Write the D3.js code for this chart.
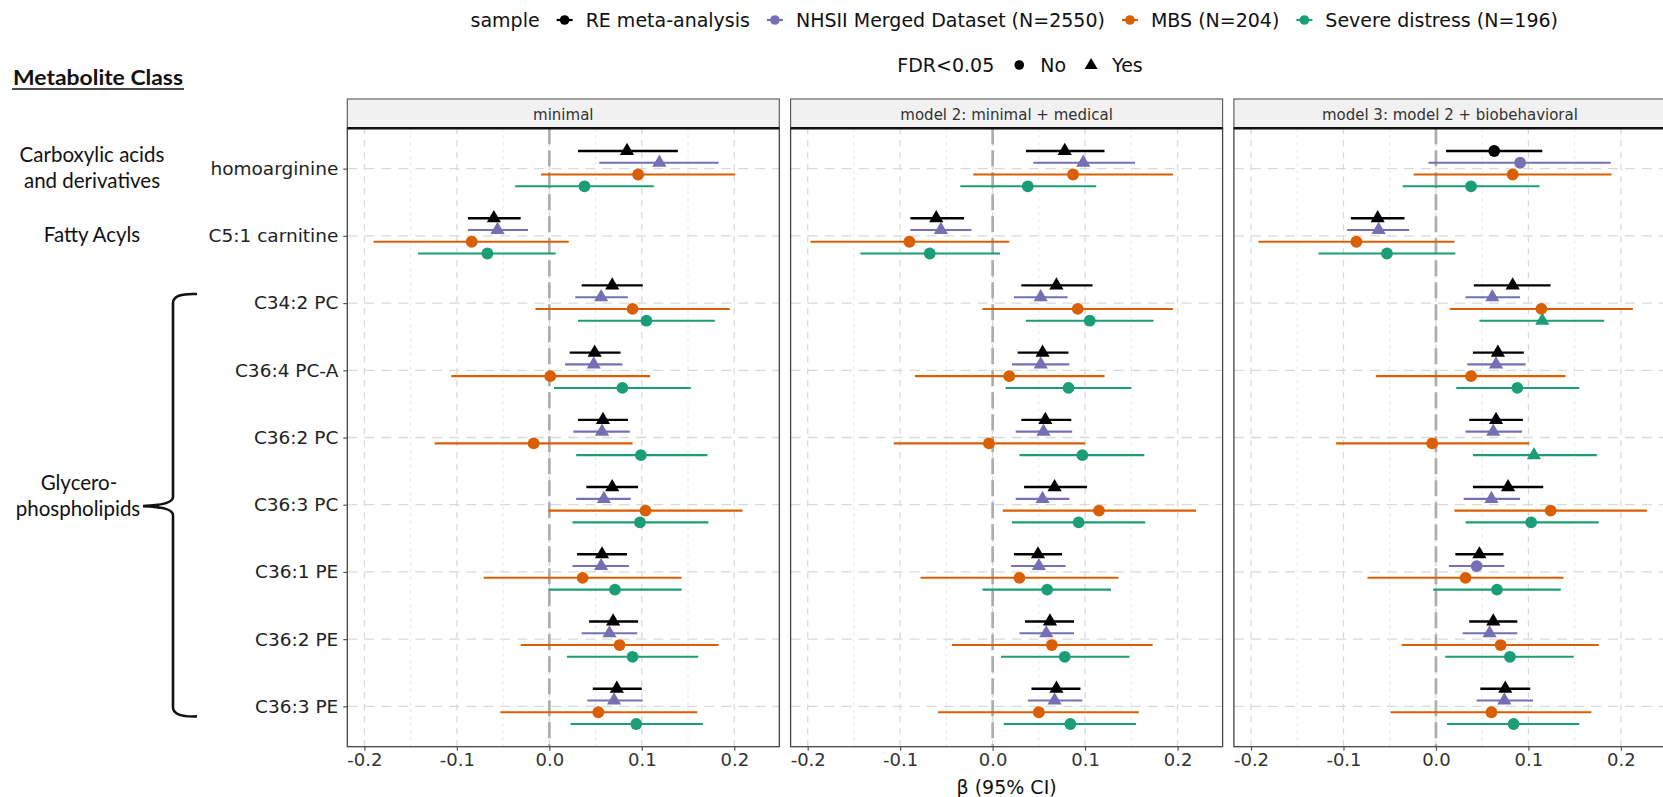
<!DOCTYPE html>
<html>
<head>
<meta charset="utf-8">
<script src="https://cdn.jsdelivr.net/npm/d3@7"></script>
<style>
  html, body { margin: 0; padding: 0; background: #fff; }
  svg { display: block; }
</style>
</head>
<body>
<svg id="chart" width="1663" height="797"></svg>
<script>
// ---------------- DATA ----------------
const categories = ["homoarginine", "C5:1 carnitine", "C34:2 PC", "C36:4 PC-A", "C36:2 PC",
                    "C36:3 PC", "C36:1 PE", "C36:2 PE", "C36:3 PE"];
const seriesNames = ["RE meta-analysis", "NHSII Merged Dataset (N=2550)", "MBS (N=204)", "Severe distress (N=196)"];
const seriesColors = ["#000000", "#7570B3", "#D95F02", "#1B9E77"];
const panelTitles = ["minimal", "model 2: minimal + medical", "model 3: model 2 + biobehavioral"];
const xTicks = [-0.2, -0.1, 0.0, 0.1, 0.2];
const xMinorTicks = [-0.15, -0.05, 0.05, 0.15];
const shapeLabels = ["No", "Yes"];

// [estimate, lower, upper] per metabolite — panel "minimal"
const minimal_RE    = [[0.084,0.031,0.139],[-0.060,-0.088,-0.031],[0.068,0.035,0.101],[0.049,0.022,0.077],[0.058,0.031,0.085],[0.068,0.040,0.096],[0.057,0.030,0.084],[0.069,0.043,0.096],[0.073,0.047,0.100]];
const minimal_NHS   = [[0.119,0.054,0.183],[-0.056,-0.088,-0.023],[0.056,0.028,0.085],[0.048,0.017,0.079],[0.057,0.026,0.087],[0.059,0.029,0.088],[0.056,0.025,0.086],[0.065,0.035,0.095],[0.070,0.041,0.101]];
const minimal_MBS   = [[0.096,-0.009,0.201],[-0.084,-0.190,0.021],[0.090,-0.015,0.195],[0.001,-0.106,0.109],[-0.017,-0.124,0.090],[0.104,-0.001,0.209],[0.036,-0.071,0.143],[0.076,-0.031,0.183],[0.053,-0.053,0.160]];
const minimal_SEV   = [[0.038,-0.037,0.113],[-0.067,-0.142,0.007],[0.105,0.031,0.179],[0.079,0.005,0.153],[0.099,0.029,0.171],[0.098,0.025,0.172],[0.071,-0.001,0.143],[0.090,0.019,0.161],[0.094,0.023,0.166]];
// panel "model 2"
const model2_RE     = [[0.078,0.036,0.121],[-0.061,-0.089,-0.031],[0.069,0.031,0.108],[0.054,0.027,0.082],[0.057,0.031,0.085],[0.067,0.034,0.102],[0.049,0.023,0.075],[0.062,0.035,0.088],[0.069,0.042,0.095]];
const model2_NHS    = [[0.098,0.044,0.154],[-0.056,-0.089,-0.023],[0.052,0.023,0.081],[0.052,0.021,0.083],[0.055,0.025,0.086],[0.054,0.025,0.083],[0.050,0.020,0.079],[0.058,0.029,0.088],[0.067,0.038,0.097]];
const model2_MBS    = [[0.087,-0.021,0.195],[-0.090,-0.197,0.018],[0.092,-0.011,0.195],[0.018,-0.084,0.121],[-0.004,-0.107,0.100],[0.115,0.011,0.220],[0.029,-0.078,0.136],[0.064,-0.044,0.173],[0.050,-0.059,0.158]];
const model2_SEV    = [[0.038,-0.035,0.112],[-0.068,-0.143,0.008],[0.105,0.036,0.174],[0.082,0.014,0.150],[0.097,0.029,0.164],[0.093,0.021,0.165],[0.059,-0.011,0.128],[0.078,0.009,0.148],[0.084,0.012,0.155]];
// panel "model 3"
const model3_RE     = [[0.063,0.011,0.115],[-0.063,-0.092,-0.034],[0.083,0.041,0.124],[0.067,0.040,0.095],[0.065,0.036,0.094],[0.078,0.040,0.116],[0.047,0.021,0.073],[0.062,0.036,0.088],[0.075,0.048,0.102]];
const model3_NHS    = [[0.091,-0.008,0.189],[-0.062,-0.096,-0.029],[0.061,0.032,0.091],[0.065,0.034,0.097],[0.062,0.032,0.093],[0.060,0.030,0.091],[0.044,0.014,0.074],[0.058,0.029,0.088],[0.074,0.044,0.105]];
const model3_MBS    = [[0.083,-0.024,0.190],[-0.086,-0.192,0.020],[0.114,0.015,0.213],[0.038,-0.065,0.140],[-0.004,-0.108,0.101],[0.124,0.020,0.228],[0.032,-0.074,0.138],[0.070,-0.037,0.176],[0.060,-0.049,0.168]];
const model3_SEV    = [[0.038,-0.036,0.112],[-0.053,-0.127,0.021],[0.115,0.047,0.182],[0.088,0.022,0.155],[0.106,0.040,0.174],[0.103,0.032,0.176],[0.066,-0.003,0.135],[0.080,0.010,0.149],[0.084,0.012,0.155]];

// FDR<0.05 flags (1 = Yes, 0 = No)
const minimal_RE_fdr  = [1,1,1,1,1,1,1,1,1];
const minimal_NHS_fdr = [1,1,1,1,1,1,1,1,1];
const minimal_MBS_fdr = [0,0,0,0,0,0,0,0,0];
const minimal_SEV_fdr = [0,0,0,0,0,0,0,0,0];
const model2_RE_fdr   = [1,1,1,1,1,1,1,1,1];
const model2_NHS_fdr  = [1,1,1,1,1,1,1,1,1];
const model2_MBS_fdr  = [0,0,0,0,0,0,0,0,0];
const model2_SEV_fdr  = [0,0,0,0,0,0,0,0,0];
const model3_RE_fdr   = [0,1,1,1,1,1,1,1,1];
const model3_NHS_fdr  = [0,1,1,1,1,1,0,1,1];
const model3_MBS_fdr  = [0,0,0,0,0,0,0,0,0];
const model3_SEV_fdr  = [0,0,1,0,1,0,0,0,0];

const classLabels = [
  {lines: ["Carboxylic acids", "and derivatives"], cat: "homoarginine"},
  {lines: ["Fatty Acyls"], cat: "C5:1 carnitine"}
];

// ---------------- BUILD ----------------
const panelData = [
  {series: [minimal_RE, minimal_NHS, minimal_MBS, minimal_SEV], fdr: [minimal_RE_fdr, minimal_NHS_fdr, minimal_MBS_fdr, minimal_SEV_fdr]},
  {series: [model2_RE, model2_NHS, model2_MBS, model2_SEV], fdr: [model2_RE_fdr, model2_NHS_fdr, model2_MBS_fdr, model2_SEV_fdr]},
  {series: [model3_RE, model3_NHS, model3_MBS, model3_SEV], fdr: [model3_RE_fdr, model3_NHS_fdr, model3_MBS_fdr, model3_SEV_fdr]}
];

const svg = d3.select("#chart");
const FONT = "'DejaVu Sans', sans-serif";
const CLASSFONT = "Lato, 'Open Sans', sans-serif";

const panelW = 432, panelGap = 11.3, panelLeft0 = 347.3;
const panelTop = 128.3, panelBottom = 746.7, stripTop = 99;
const xDomain = [-0.2185, 0.2487];

const y = d3.scalePoint().domain(categories).range([panelTop, panelBottom]).padding(0.6);
const step = y.step();
const dodge = 0.7 / 4 * step;

const triH = 12.2, triW = 14.2;
const triPath = (cx, cy) => `M${cx},${cy - 2*triH/3}L${cx + triW/2},${cy + triH/3}L${cx - triW/2},${cy + triH/3}Z`;

panelTitles.forEach((title, p) => {
  const left = panelLeft0 + p * (panelW + panelGap);
  const x = d3.scaleLinear().domain(xDomain).range([left, left + panelW]);
  const g = svg.append("g");

  svg.append("clipPath").attr("id", "clip" + p)
    .append("rect").attr("x", left).attr("y", panelTop).attr("width", panelW).attr("height", panelBottom - panelTop);

  const grid = g.append("g").attr("clip-path", `url(#clip${p})`);
  grid.selectAll(".minor").data(xMinorTicks).join("line")
    .attr("x1", d => x(d)).attr("x2", d => x(d)).attr("y1", panelTop).attr("y2", panelBottom)
    .attr("stroke", "#e6e6e6").attr("stroke-width", 1).attr("stroke-dasharray", "3,4");
  grid.selectAll(".major").data(xTicks).join("line")
    .attr("x1", d => x(d)).attr("x2", d => x(d)).attr("y1", panelTop).attr("y2", panelBottom)
    .attr("stroke", "#d9d9d9").attr("stroke-width", 1.3).attr("stroke-dasharray", "6,6");
  grid.selectAll(".hgrid").data(categories).join("line")
    .attr("x1", left).attr("x2", left + panelW).attr("y1", d => y(d)).attr("y2", d => y(d))
    .attr("stroke", "#d9d9d9").attr("stroke-width", 1.3).attr("stroke-dasharray", "10,7");
  grid.append("line")
    .attr("x1", x(0)).attr("x2", x(0)).attr("y1", panelTop).attr("y2", panelBottom)
    .attr("stroke", "#adadad").attr("stroke-width", 2.7).attr("stroke-dasharray", "16,6");

  const marks = g.append("g").attr("clip-path", `url(#clip${p})`);
  const pd = panelData[p];
  for (let s = pd.series.length - 1; s >= 0; s--) {
    const color = seriesColors[s];
    const off = (s - 1.5) * dodge;
    const rows = pd.series[s].map((v, i) => ({cat: categories[i], est: v[0], lo: v[1], hi: v[2], sig: pd.fdr[s][i]}));
    marks.selectAll(null).data(rows).join("line")
      .attr("x1", d => x(d.lo)).attr("x2", d => x(d.hi))
      .attr("y1", d => y(d.cat) + off).attr("y2", d => y(d.cat) + off)
      .attr("stroke", color).attr("stroke-width", s === 0 ? 2.4 : 2.1);
    marks.selectAll(null).data(rows.filter(d => !d.sig)).join("circle")
      .attr("cx", d => x(d.est)).attr("cy", d => y(d.cat) + off).attr("r", 5.9)
      .attr("fill", color);
    marks.selectAll(null).data(rows.filter(d => d.sig)).join("path")
      .attr("d", d => triPath(x(d.est), y(d.cat) + off))
      .attr("fill", color);
  }

  g.append("rect").attr("x", left).attr("y", panelTop).attr("width", panelW).attr("height", panelBottom - panelTop)
    .attr("fill", "none").attr("stroke", "#444").attr("stroke-width", 1.3);

  g.append("rect").attr("x", left).attr("y", stripTop).attr("width", panelW).attr("height", panelTop - stripTop)
    .attr("fill", "#f1f1f1").attr("stroke", "#555").attr("stroke-width", 1.1);
  g.append("line").attr("x1", left).attr("x2", left + panelW).attr("y1", panelTop).attr("y2", panelTop)
    .attr("stroke", "#111").attr("stroke-width", 2.6);
  g.append("text").attr("x", left + panelW / 2).attr("y", (stripTop + panelTop) / 2 + 1)
    .attr("dy", "0.35em").attr("text-anchor", "middle")
    .attr("font-family", FONT).attr("font-size", 15).attr("fill", "#333").text(title);

  const xAxis = d3.axisBottom(x).tickValues(xTicks).tickFormat(d3.format(".1f")).tickSize(4).tickPadding(3);
  const ax = g.append("g").attr("transform", `translate(0,${panelBottom})`).call(xAxis);
  ax.select(".domain").remove();
  ax.selectAll(".tick line").attr("stroke", "#555").attr("stroke-width", 1.2);
  ax.selectAll(".tick text").attr("font-family", FONT).attr("font-size", 18).attr("fill", "#333")
    .text(d => d3.format(".1f")(d).replace("−", "-"));

  if (p === 0) {
    const yAxis = d3.axisLeft(y).tickSize(4).tickPadding(5);
    const ay = g.append("g").attr("transform", `translate(${left},0)`).call(yAxis);
    ay.select(".domain").remove();
    ay.selectAll(".tick line").attr("stroke", "#555").attr("stroke-width", 1.2);
    ay.selectAll(".tick text").attr("font-family", FONT).attr("font-size", 18.5).attr("fill", "#222");
  }
  if (p === 1) {
    g.append("text").attr("x", left + panelW / 2).attr("y", 787).attr("dy", "0.35em")
      .attr("text-anchor", "middle").attr("font-family", FONT).attr("font-size", 19).attr("fill", "#111")
      .text("β (95% CI)");
  }
});

// ---------------- LEFT ANNOTATIONS ----------------
const ann = svg.append("g").attr("font-family", CLASSFONT).attr("fill", "#111");
ann.append("text").attr("x", 13).attr("y", 85).attr("font-size", 20).attr("font-weight", "bold")
  .attr("textLength", 170).attr("lengthAdjust", "spacingAndGlyphs").text("Metabolite Class");
ann.append("line").attr("x1", 12).attr("x2", 184).attr("y1", 89).attr("y2", 89)
  .attr("stroke", "#111").attr("stroke-width", 1.6);

classLabels.forEach(c => {
  const cy = y(c.cat);
  const n = c.lines.length;
  c.lines.forEach((t, i) => {
    ann.append("text").attr("x", 92).attr("y", cy + (i - (n - 1) / 2) * 26 - 1).attr("dy", "0.35em")
      .attr("text-anchor", "middle").attr("font-size", 20.5).text(t);
  });
});
const gTop = y("C34:2 PC") - 9, gBot = y("C36:3 PE") + 10;
const gMid = (y("C36:2 PC") + y("C36:3 PC")) / 2 + 35;
ann.append("text").attr("x", 79).attr("y", 483).attr("dy", "0.35em").attr("text-anchor", "middle").attr("font-size", 20.5).text("Glycero-");
ann.append("text").attr("x", 78).attr("y", 509).attr("dy", "0.35em").attr("text-anchor", "middle").attr("font-size", 20.5).text("phospholipids");
const bx = 173, armX = 197, tipX = 143;
const brace = d3.path();
brace.moveTo(armX, gTop);
brace.quadraticCurveTo(bx, gTop - 1, bx, gTop + 9);
brace.lineTo(bx, gMid - 9);
brace.quadraticCurveTo(bx, gMid - 1, tipX, gMid);
brace.quadraticCurveTo(bx, gMid + 1, bx, gMid + 9);
brace.lineTo(bx, gBot - 9);
brace.quadraticCurveTo(bx, gBot + 1, armX, gBot);
ann.append("path").attr("d", brace.toString()).attr("fill", "none").attr("stroke", "#111").attr("stroke-width", 2.6);

// ---------------- LEGENDS ----------------
function layoutLegend(gy, anchorX, anchorMode, title, items) {
  const lg = svg.append("g");
  let cur = 0;
  const parts = [];
  const tt = lg.append("text").attr("y", gy).attr("dy", "0.35em").attr("font-family", FONT)
    .attr("font-size", 19).attr("fill", "#111").text(title);
  parts.push({el: tt, x: cur});
  cur += tt.node().getComputedTextLength();
  items.forEach(it => {
    cur += 25;
    const kg = lg.append("g");
    it.drawKey(kg, gy);
    parts.push({el: kg, x: cur, isKey: true});
    cur += 21;
    const lt = lg.append("text").attr("y", gy).attr("dy", "0.35em").attr("font-family", FONT)
      .attr("font-size", 19).attr("fill", "#111").text(it.label);
    parts.push({el: lt, x: cur});
    cur += lt.node().getComputedTextLength();
  });
  const start = anchorMode === "end" ? anchorX - cur : anchorX - cur / 2;
  parts.forEach(pt => {
    if (pt.isKey) pt.el.attr("transform", `translate(${start + pt.x},0)`);
    else pt.el.attr("x", start + pt.x);
  });
}

layoutLegend(20, 1558, "end", "sample", seriesNames.map((nm, i) => ({
  label: nm,
  drawKey: (kg, gy) => {
    kg.append("line").attr("x1", -8).attr("x2", 8).attr("y1", gy).attr("y2", gy)
      .attr("stroke", seriesColors[i]).attr("stroke-width", 2.2);
    kg.append("circle").attr("cx", 0).attr("cy", gy).attr("r", 4.8).attr("fill", seriesColors[i]);
  }
})));

layoutLegend(65, 1020, "center", "FDR<0.05", shapeLabels.map((nm, i) => ({
  label: nm,
  drawKey: (kg, gy) => {
    if (i === 0) kg.append("circle").attr("cx", 0).attr("cy", gy).attr("r", 4.8).attr("fill", "#000");
    else kg.append("path").attr("d", `M0,${gy - 7}L6.5,${gy + 4}L-6.5,${gy + 4}Z`).attr("fill", "#000");
  }
})));
</script>
</body>
</html>
